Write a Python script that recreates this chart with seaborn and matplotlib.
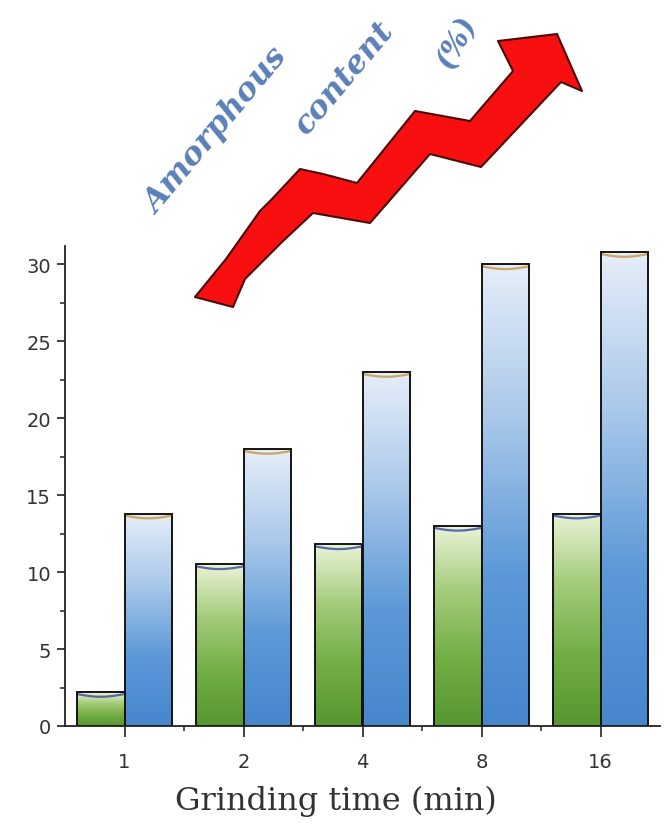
import numpy as np
import pandas as pd
import matplotlib
matplotlib.use("Agg")
import matplotlib.pyplot as plt
from matplotlib.colors import LinearSegmentedColormap
from matplotlib.patches import Polygon
from matplotlib.ticker import MultipleLocator, FixedLocator
import seaborn as sns

# Data
grinding_time = ["1", "2", "4", "8", "16"]
series_a = [2.2, 10.5, 11.8, 13.0, 13.8]
series_b = [13.8, 18.0, 23.0, 30.0, 30.8]
series_names = ["A", "B"]
y_ticks = [0, 5, 10, 15, 20, 25, 30]

df = pd.DataFrame({
    "time": grinding_time * 2,
    "value": series_a + series_b,
    "series": [series_names[0]] * len(series_a) + [series_names[1]] * len(series_b),
})

sns.set_style("ticks")

W, H = 664, 829
fig = plt.figure(figsize=(W / 100, H / 100), dpi=100)
ax = fig.add_axes([65 / W, 1 - 727 / H, 595 / W, 480 / H])

sns.barplot(
    data=df, x="time", y="value", hue="series",
    order=grinding_time, hue_order=series_names,
    palette=["#6aaa40", "#4f8fd4"], width=0.8,
    edgecolor="#141414", linewidth=1.4,
    errorbar=None, legend=False, ax=ax,
)

# vertical gradient fills, light at the top of each bar
cmap_green = LinearSegmentedColormap.from_list(
    "greens", ["#56972f", "#72ae44", "#a3cb7a", "#eaf3d6"])
cmap_blue = LinearSegmentedColormap.from_list(
    "blues", ["#4686cd", "#5d99d8", "#a9c8ea", "#e6eef9"])
grad = np.linspace(0, 1, 256).reshape(-1, 1)
n = len(grinding_time)
for i, bar in enumerate(ax.patches[: 2 * n]):
    x0, y0 = bar.get_x(), bar.get_y()
    w, h = bar.get_width(), bar.get_height()
    cmap = cmap_green if i < n else cmap_blue
    im = ax.imshow(grad, extent=[x0, x0 + w, y0, y0 + h], origin="lower",
                   aspect="auto", cmap=cmap, zorder=0.9, interpolation="bilinear")
    im.set_clip_path(bar)
    bar.set_facecolor("none")
    bar.set_zorder(1.2)
    # small curved meniscus just below the top edge
    xs = np.linspace(x0 + 0.01, x0 + w - 0.01, 40)
    ys = y0 + h - 0.12 - 0.18 * np.sin(np.pi * (xs - x0) / w)
    ax.plot(xs, ys, color="#2c3d9a" if i < n else "#c4902e",
            lw=1.6, alpha=0.75, zorder=1.1, solid_capstyle="round")

ax.set_xlim(-0.5, 4.5)
ax.set_ylim(0, 31.2)
ax.set_yticks(y_ticks)
ax.yaxis.set_minor_locator(MultipleLocator(2.5))
ax.xaxis.set_minor_locator(FixedLocator([0.5, 1.5, 2.5, 3.5]))

sns.despine(ax=ax)
for side in ("left", "bottom"):
    ax.spines[side].set_linewidth(1.3)
    ax.spines[side].set_color("#222222")

ax.tick_params(axis="both", which="major", labelsize=14, color="#222222",
               labelcolor="#333333", width=1.2, direction="out")
ax.tick_params(axis="y", which="major", length=6, pad=4)
ax.tick_params(axis="x", which="major", length=8, pad=11)
ax.tick_params(axis="both", which="minor", length=3.5, width=1.1, color="#222222")

ax.set_ylabel("")
ax.set_xlabel("Grinding time (min)", fontfamily="DejaVu Serif", fontsize=23,
              color="#333333")
ax.xaxis.label.set_va("baseline")
ax.xaxis.set_label_coords(0.456, -0.172)

# rising zigzag arrow above the bars (pixel outline, top-left origin)
arrow_px = np.array([
    (195, 298), (226, 260), (260, 212), (272, 200), (300, 170), (323, 175),
    (357, 184), (415, 112), (470, 122), (513, 72), (498, 42), (557, 35),
    (582, 92), (561, 83), (481, 168), (430, 155), (370, 224), (313, 214),
    (282, 243), (245, 280), (233, 308),
], dtype=float)
arrow_fig = np.column_stack([arrow_px[:, 0] / W, 1 - arrow_px[:, 1] / H])
fig.add_artist(Polygon(arrow_fig, closed=True, transform=fig.transFigure,
                       facecolor="#f80f0f", edgecolor="#4a0a0a", lw=1.5,
                       joinstyle="round"))

title_style = dict(fontfamily="DejaVu Serif", fontweight="bold", fontstyle="italic",
                   color="#5b80b8", ha="center", va="center",
                   rotation_mode="anchor", transform=fig.transFigure)
fig.text(217 / W, 1 - 131 / H, "Amorphous", fontsize=23, rotation=50, **title_style)
fig.text(345 / W, 1 - 78 / H, "content", fontsize=23, rotation=50, **title_style)
fig.text(457 / W, 1 - 42 / H, "(%)", fontsize=21, rotation=62, **title_style)

fig.savefig("out.png", dpi=100)
